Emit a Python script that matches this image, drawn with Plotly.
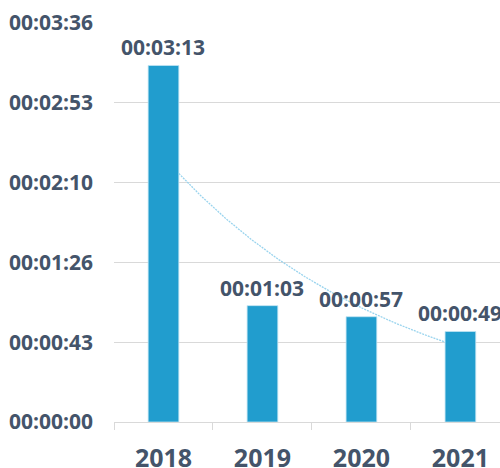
import numpy as np
import plotly.graph_objects as go

years = ["2018", "2019", "2020", "2021"]
seconds = [193, 63, 57, 49]
y_tickvals = [0, 43.2, 86.4, 129.6, 172.8, 216]
y_ticktext = ["00:00:00", "00:00:43", "00:01:26", "00:02:10", "00:02:53", "00:03:36"]

TEXT = "#44546A"
BAR = "#219DCE"
FONT = "Open Sans"
BAR_W = 0.31


def hms(s):
    s = int(round(s))
    return f"{s // 3600:02d}:{(s % 3600) // 60:02d}:{s % 60:02d}"


xs = np.arange(len(years))

# exponential trendline fitted to the bar values
b, a = np.polyfit(xs, np.log(seconds), 1)
tx = np.linspace(BAR_W / 2, len(years) - 1 - BAR_W / 2, 200)
ty = np.exp(a + b * tx)

fig = go.Figure()
fig.add_trace(go.Bar(
    x=xs, y=seconds, width=BAR_W,
    marker=dict(color=BAR, line=dict(color="#BFE3F2", width=0.8)),
    hoverinfo="skip",
))
fig.add_trace(go.Scatter(
    x=tx, y=ty, mode="lines",
    line=dict(color="#9AD4EE", width=1.3, dash="2px,1px"),
    hoverinfo="skip",
))

for x, v in zip(xs, seconds):
    fig.add_annotation(
        x=x, y=v, text=hms(v), showarrow=False,
        yanchor="middle", yshift=18,
        font=dict(family=FONT, size=21, color=TEXT, weight="bold"),
    )

fig.update_layout(
    width=500, height=468,
    margin=dict(l=114, r=0, t=23, b=46),
    paper_bgcolor="white", plot_bgcolor="white",
    showlegend=False,
    font=dict(family=FONT, color=TEXT),
)
fig.update_xaxes(
    range=[-0.5, 3.4], automargin=False,
    tickvals=list(xs), ticktext=years,
    ticks="", ticklabelstandoff=14,
    tickfont=dict(family=FONT, size=25, color=TEXT, weight="bold"),
    showgrid=False, zeroline=False,
    showline=True, linecolor="#D9D9D9", linewidth=1,
    minor=dict(tickmode="linear", tick0=-0.5, dtick=1, ticks="outside",
               ticklen=7, tickcolor="#D9D9D9", tickwidth=1, showgrid=False),
)
fig.update_yaxes(
    range=[0, 216], automargin=False,
    tickvals=y_tickvals, ticktext=y_ticktext,
    ticks="", ticklabelstandoff=20,
    tickfont=dict(family=FONT, size=21, color=TEXT, weight="bold"),
    showgrid=True, gridcolor="#D9D9D9", gridwidth=1,
    zeroline=False, showline=False,
)

fig.write_html("out.html")
